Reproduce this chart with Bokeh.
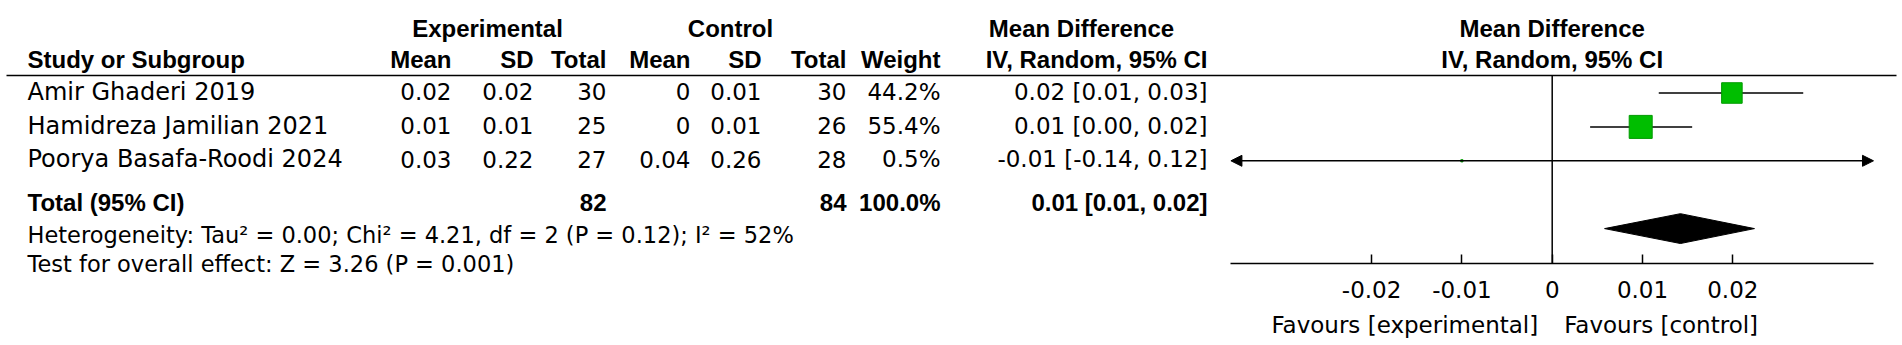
import numpy as np
from bokeh.plotting import figure
from bokeh.models import Range1d, LinearAxis, FixedTicker, Arrow, NormalHead
from bokeh.core.properties import value
from bokeh.embed import file_html
from bokeh.resources import INLINE

# ---------------- data ----------------
studies = ["Amir Ghaderi 2019", "Hamidreza Jamilian 2021", "Poorya Basafa-Roodi 2024"]
exp_mean = ["0.02", "0.01", "0.03"]
exp_sd = ["0.02", "0.01", "0.22"]
exp_total = ["30", "25", "27"]
ctl_mean = ["0", "0", "0.04"]
ctl_sd = ["0.01", "0.01", "0.26"]
ctl_total = ["30", "26", "28"]
weights = [44.2, 55.4, 0.5]
weight_text = ["44.2%", "55.4%", "0.5%"]
md_text = ["0.02 [0.01, 0.03]", "0.01 [0.00, 0.02]", "-0.01 [-0.14, 0.12]"]
md_est = [0.0199, 0.0098, -0.01]
md_lo = [0.0118, 0.0042, -0.14]
md_hi = [0.0278, 0.0155, 0.12]

total_label = "Total (95% CI)"
total_exp = "82"
total_ctl = "84"
total_weight = "100.0%"
total_md_text = "0.01 [0.01, 0.02]"
pooled_lo, pooled_est, pooled_hi = 0.0058, 0.0142, 0.0224

heterogeneity = "Heterogeneity: Tau\u00b2 = 0.00; Chi\u00b2 = 4.21, df = 2 (P = 0.12); I\u00b2 = 52%"
overall = "Test for overall effect: Z = 3.26 (P = 0.001)"

ticks = [-0.02, -0.01, 0, 0.01, 0.02]
tick_labels = ["-0.02", "-0.01", "0", "0.01", "0.02"]
favours = ["Favours [experimental]", "Favours [control]"]

# ---------------- layout constants ----------------
W, H = 1900, 343
FRAME_H = 263
px_per_row = 33.9
row0_px = 92.5
y_bottom = (FRAME_H - row0_px) / px_per_row
y_top = -row0_px / px_per_row
md_px = 9030.0          # pixels per unit of mean difference
zero_px = 1551.7        # frame x of zero
md_start = -zero_px / md_px
md_end = (W - zero_px) / md_px
axis_lim = 0.03558

REG = value("DejaVu Sans")
BOLD = value("Liberation Sans")
TXT_OFF = -0.04
HEAD_LINE = -0.516
H1 = -1.90
H2 = -0.99
TOTAL_TXT = 3.23
HET_Y = 4.2
TEST_Y = 5.03
FAV_Y = 6.84
TR = 4  # diamond row

p = figure(width=W, height=H, output_backend="svg", toolbar_location=None,
           x_axis_type=None, y_axis_type=None,
           x_range=Range1d(0, W), y_range=Range1d(y_bottom, y_top),
           min_border_left=0, min_border_right=0, min_border_top=0, min_border_bottom=H - FRAME_H)
p.extra_x_ranges = {"md": Range1d(md_start, md_end)}
p.grid.visible = False
p.outline_line_color = None
p.background_fill_color = "white"
p.border_fill_color = "white"

rows = np.arange(len(studies))
text_rows = rows + TXT_OFF


def txt(x, y, t, align="left", bold=False, size=None, rng="default", level="overlay"):
    if size is None:
        size = 24 if bold else 23
    r = p.text(x=x, y=y, text=t, text_align=align, text_baseline="middle",
               text_font=BOLD if bold else REG,
               text_font_size=value(f"{size}px"),
               text_font_style="bold" if bold else "normal",
               text_color="black", x_range_name=rng)
    r.level = level
    return r


LEFT = 27
cols = {"exp_mean": 451, "exp_sd": 533, "exp_total": 606, "ctl_mean": 690,
        "ctl_sd": 761, "ctl_total": 846, "weight": 940, "md": 1207}

# header rows
txt([487, 730, 1081], [H1] * 3, ["Experimental", "Control", "Mean Difference"], "center", True)
txt([LEFT], [H2], ["Study or Subgroup"], "left", True)
txt([cols["exp_mean"], cols["exp_sd"], cols["exp_total"], cols["ctl_mean"], cols["ctl_sd"],
     cols["ctl_total"], cols["weight"], cols["md"]], [H2] * 8,
    ["Mean", "SD", "Total", "Mean", "SD", "Total", "Weight", "IV, Random, 95% CI"], "right", True)
txt([0, 0], [H1, H2], ["Mean Difference", "IV, Random, 95% CI"], "center", True, rng="md")

# header rule
p.segment(x0=[6], x1=[1896], y0=[HEAD_LINE], y1=[HEAD_LINE], line_color="black", line_width=1.5)

# study rows
txt([LEFT] * 3, text_rows, studies, "left", size=24)
for key, vals in [("exp_mean", exp_mean), ("exp_sd", exp_sd), ("exp_total", exp_total),
                  ("ctl_mean", ctl_mean), ("ctl_sd", ctl_sd), ("ctl_total", ctl_total),
                  ("weight", weight_text), ("md", md_text)]:
    txt([cols[key]] * 3, text_rows, vals, "right")

# total row and statistics
txt([LEFT], [TOTAL_TXT], [total_label], "left", True)
txt([cols["exp_total"], cols["ctl_total"], cols["weight"], cols["md"]], [TOTAL_TXT] * 4,
    [total_exp, total_ctl, total_weight, total_md_text], "right", True)
txt([LEFT, LEFT], [HET_Y, TEST_Y], [heterogeneity, overall], "left", size=22.5)

# forest: zero line
p.segment(x0=[0], x1=[0], y0=[HEAD_LINE], y1=[y_bottom], x_range_name="md",
          line_color="black", line_width=1.5)

# CI lines (clipped to axis) and arrows for those running off
lo = np.array(md_lo)
hi = np.array(md_hi)
lo_c = np.clip(lo, -axis_lim, axis_lim)
hi_c = np.clip(hi, -axis_lim, axis_lim)
inside = (lo >= -axis_lim) & (hi <= axis_lim)
p.segment(x0=lo_c[inside], x1=hi_c[inside], y0=rows[inside], y1=rows[inside],
          x_range_name="md", line_color="black", line_width=1.5)
for i in np.where(~inside)[0]:
    p.add_layout(Arrow(x_start=float(lo_c[i]), x_end=float(hi_c[i]), y_start=float(rows[i]),
                       y_end=float(rows[i]), x_range_name="md", line_width=1.5, line_color="black",
                       start=NormalHead(size=11, fill_color="black", line_color="black") if lo[i] < -axis_lim else None,
                       end=NormalHead(size=11, fill_color="black", line_color="black") if hi[i] > axis_lim else None))

sizes = 23 * np.sqrt(np.array(weights) / max(weights))
p.scatter(x=md_est, y=rows, size=sizes, marker="square", x_range_name="md",
          fill_color="#00BE00", line_color="#009A00", line_width=1)

# pooled diamond
hh = 0.44
p.patch(x=[pooled_lo, pooled_est, pooled_hi, pooled_est], y=[TR, TR - hh, TR, TR + hh],
        x_range_name="md", fill_color="black", line_color="black")

# axis
ax = LinearAxis(x_range_name="md", ticker=FixedTicker(ticks=ticks), bounds=(-axis_lim, axis_lim))
ax.major_label_overrides = {t: l for t, l in zip(ticks, tick_labels)}
ax.major_tick_in = 9
ax.major_tick_out = 0
ax.minor_tick_line_color = None
ax.axis_line_width = 1.5
ax.major_tick_line_width = 1.5
ax.axis_line_color = "black"
ax.major_tick_line_color = "black"
ax.major_label_text_font = "DejaVu Sans"
ax.major_label_text_font_size = "23px"
ax.major_label_text_color = "black"
ax.major_label_standoff = 17
p.add_layout(ax, "below")

# favours labels
r = p.text(x=[0, 0], y=[FAV_Y, FAV_Y], text=favours, text_align=["right", "left"],
           x_offset=[-14, 12], text_baseline="middle", text_font=REG, text_font_size=value("23px"),
           text_color="black", x_range_name="md")
r.level = "overlay"

open("out.html", "w").write(file_html(p, INLINE))
